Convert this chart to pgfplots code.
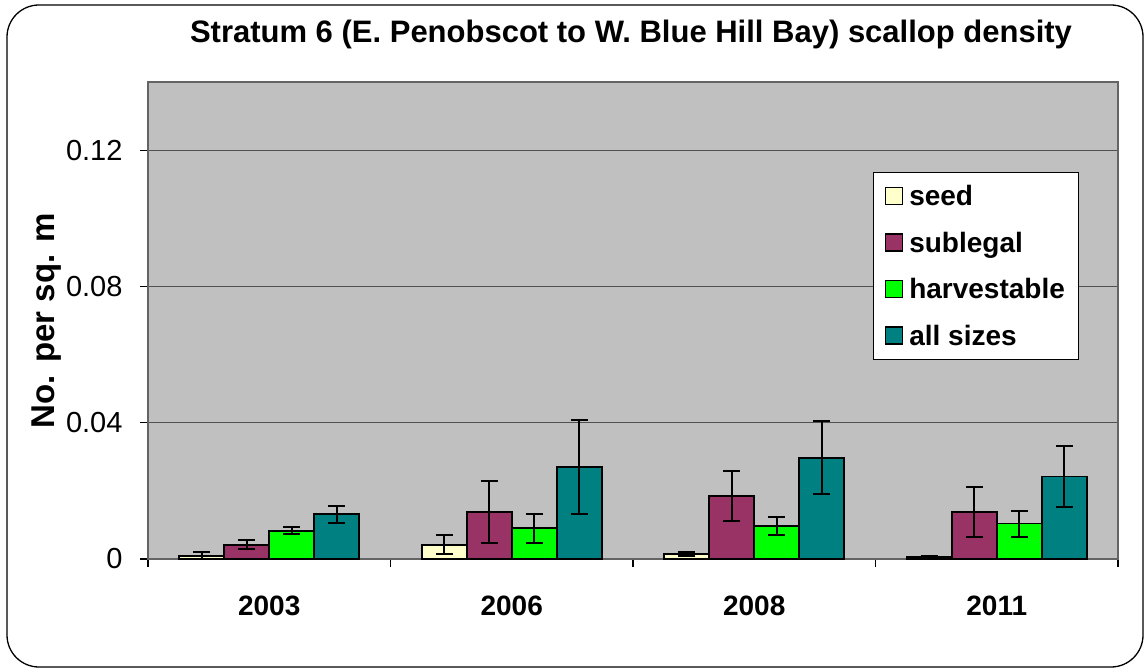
\documentclass[border=0pt]{standalone}
\usepackage{fontspec}
\setmainfont{Liberation Sans}
\usepackage{pgfplots}
\usepackage{pgfplotstable}
\pgfplotsset{compat=1.18}
\definecolor{seedc}{RGB}{255,255,204}
\definecolor{subc}{RGB}{153,51,102}
\definecolor{harvc}{RGB}{0,255,0}
\definecolor{allc}{RGB}{0,128,128}
\definecolor{plotbg}{RGB}{192,192,192}
\definecolor{axgray}{RGB}{100,100,100}
\definecolor{gridc}{RGB}{80,80,80}

\pgfplotstableread{
x y err
0 0.0008 0.0012
1 0.0042 0.0028
2 0.0015 0.0006
3 0.0006 0.0003
}\seed
\pgfplotstableread{
x y err
0 0.0042 0.0014
1 0.0138 0.0090
2 0.0186 0.0073
3 0.0138 0.0073
}\sublegal
\pgfplotstableread{
x y err
0 0.0083 0.0010
1 0.0090 0.0042
2 0.0097 0.0027
3 0.0104 0.0038
}\harvest
\pgfplotstableread{
x y err
0 0.0131 0.0024
1 0.0270 0.0138
2 0.0297 0.0107
3 0.0242 0.0090
}\allsizes

\pgfplotsset{
  mybar/.style={draw=black, line width=1.8pt,
    error bars/.cd, y dir=both, y explicit,
    error bar style={black, line width=2pt},
    error mark options={rotate=90, mark size=8.5pt, black, line width=2pt}},
}

\begin{document}
\begin{tikzpicture}[x=1pt,y=1pt]
\useasboundingbox (0,0) rectangle (1148,670);
\draw[line width=1.3pt, rounded corners=32pt] (7,3) rectangle (1143,665);
\node[font=\fontsize{31}{31}\selectfont\bfseries] at (631,636) {Stratum 6 (E. Penobscot to W. Blue Hill Bay) scallop density};
\begin{axis}[at={(148pt,111pt)}, anchor=south west, scale only axis,
  width=970pt, height=477pt,
  xmin=-0.5, xmax=3.5, ymin=0, ymax=0.14,
  axis background/.style={fill=plotbg},
  axis line style={axgray, line width=1.2pt},
  ybar=0pt, bar width=45pt,
  xtick={-0.5,0.5,1.5,2.5,3.5},
  xticklabels={2003,2006,2008,2011},
  x tick label as interval,
  ytick={0,0.04,0.08,0.12},
  /pgf/number format/assume math mode=true,
  yticklabel={\pgfmathprintnumber[fixed,precision=2]{\tick}},
  tick align=outside, major tick length=8pt,
  xtick pos=bottom, ytick pos=left,
  tick style={black, line width=1.2pt},
  ymajorgrids, major grid style={gridc, line width=1pt},
  yticklabel style={font=\fontsize{29}{29}\selectfont, xshift=-14pt},
  xticklabel style={font=\fontsize{28}{28}\selectfont\bfseries, yshift=-25pt},
  ylabel={No. per sq. m},
  ylabel style={font=\fontsize{33}{33}\selectfont\bfseries, at={(axis description cs:-0.105,0.5)}, anchor=center},
  legend style={at={(axis description cs:0.747,0.811)}, anchor=north west,
    draw=black, line width=1pt, fill=white,
    font=\fontsize{28}{28}\selectfont\bfseries,
    row sep=20.7pt, inner xsep=12pt, inner ysep=11pt,
    /tikz/every odd column/.append style={column sep=4pt}},
  legend cell align=left,
  legend image code/.code={\draw[#1, draw=black, line width=1.2pt] (0pt,-8pt) rectangle (17pt,9pt);},
]
\addplot[fill=seedc, mybar] table[x=x, y=y, y error=err]{\seed};
\addplot[fill=subc, mybar] table[x=x, y=y, y error=err]{\sublegal};
\addplot[fill=harvc, mybar] table[x=x, y=y, y error=err]{\harvest};
\addplot[fill=allc, mybar] table[x=x, y=y, y error=err]{\allsizes};
\legend{seed, sublegal, harvestable, all sizes}
\end{axis}
\end{tikzpicture}
\end{document}
